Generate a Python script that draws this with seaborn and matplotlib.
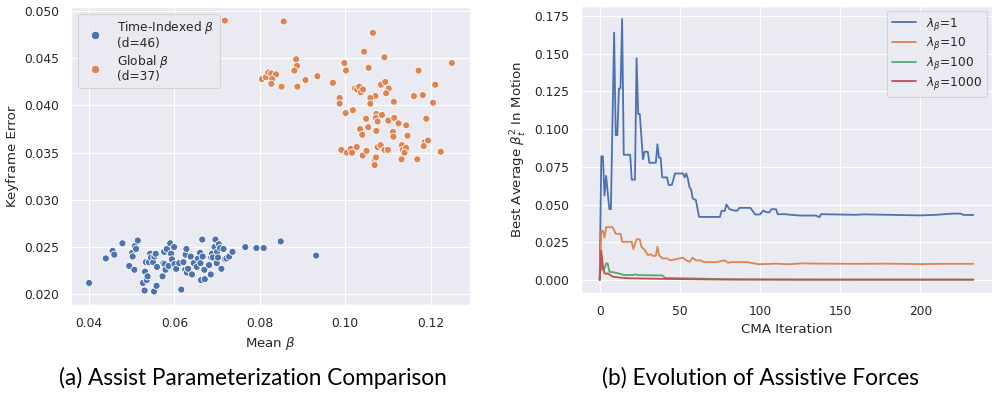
import numpy as np
import pandas as pd
import matplotlib
matplotlib.use("Agg")
import matplotlib.pyplot as plt
import seaborn as sns

# ---- data: (a) scatter of mean beta vs keyframe error ----
time_beta = [
    0.0400, 0.0439, 0.0455, 0.0459, 0.0478, 0.0494, 0.0501, 0.0502, 0.0506, 0.0507,
    0.0510, 0.0514, 0.0526, 0.0530, 0.0531, 0.0533, 0.0535, 0.0537, 0.0540, 0.0543,
    0.0545, 0.0550, 0.0552, 0.0553, 0.0556, 0.0558, 0.0559, 0.0572, 0.0574, 0.0576,
    0.0577, 0.0579, 0.0582, 0.0586, 0.0590, 0.0592, 0.0594, 0.0599, 0.0600, 0.0604,
    0.0611, 0.0616, 0.0621, 0.0625, 0.0626, 0.0628, 0.0629, 0.0632, 0.0638, 0.0641,
    0.0645, 0.0652, 0.0655, 0.0660, 0.0661, 0.0662, 0.0665, 0.0666, 0.0670, 0.0671,
    0.0681, 0.0685, 0.0686, 0.0688, 0.0690, 0.0694, 0.0696, 0.0699, 0.0700, 0.0702,
    0.0704, 0.0707, 0.0710, 0.0715, 0.0719, 0.0722, 0.0728, 0.0736, 0.0766, 0.0792,
    0.0809, 0.0849, 0.0932]
time_err = [
    0.0212, 0.0238, 0.0246, 0.0242, 0.0254, 0.0230, 0.0244, 0.0240, 0.0226, 0.0251,
    0.0248, 0.0257, 0.0212, 0.0204, 0.0224, 0.0234, 0.0215, 0.0219, 0.0234, 0.0243,
    0.0239, 0.0234, 0.0203, 0.0240, 0.0243, 0.0209, 0.0229, 0.0219, 0.0233, 0.0245,
    0.0232, 0.0226, 0.0248, 0.0230, 0.0254, 0.0243, 0.0237, 0.0250, 0.0232, 0.0227,
    0.0233, 0.0205, 0.0234, 0.0226, 0.0242, 0.0248, 0.0223, 0.0227, 0.0240, 0.0221,
    0.0233, 0.0229, 0.0238, 0.0244, 0.0233, 0.0215, 0.0258, 0.0240, 0.0226, 0.0216,
    0.0231, 0.0221, 0.0239, 0.0243, 0.0239, 0.0250, 0.0258, 0.0233, 0.0245, 0.0239,
    0.0253, 0.0249, 0.0227, 0.0248, 0.0237, 0.0238, 0.0240, 0.0245, 0.0250, 0.0249,
    0.0249, 0.0256, 0.0241]

global_beta = [
    0.0718, 0.0856, 0.1065, 0.1044, 0.1092, 0.0885, 0.0887, 0.0881, 0.0998, 0.1002,
    0.1055, 0.1250, 0.1172, 0.0805, 0.0814, 0.0820, 0.0827, 0.0838, 0.0829, 0.0827,
    0.0851, 0.0888, 0.0907, 0.0935, 0.0971, 0.1023, 0.1028, 0.1033, 0.1037, 0.1042,
    0.1084, 0.1094, 0.1102, 0.1096, 0.1211, 0.1161, 0.1182, 0.1206, 0.1114, 0.1071,
    0.1059, 0.1059, 0.0987, 0.0987, 0.1018, 0.1001, 0.1073, 0.1072, 0.1086, 0.1049,
    0.1076, 0.1101, 0.1115, 0.1125, 0.1143, 0.1190, 0.1054, 0.1035, 0.1040, 0.1073,
    0.1112, 0.1113, 0.1146, 0.1186, 0.1194, 0.1184, 0.1224, 0.0991, 0.1004, 0.1013,
    0.1016, 0.1027, 0.1041, 0.1050, 0.1076, 0.1083, 0.1092, 0.1100, 0.1133, 0.1135,
    0.1143, 0.1139, 0.1069, 0.1072, 0.1069, 0.1132, 0.1169]
global_err = [
    0.0490, 0.0489, 0.0477, 0.0457, 0.0451, 0.0449, 0.0442, 0.0437, 0.0445, 0.0437,
    0.0440, 0.0445, 0.0437, 0.0428, 0.0430, 0.0435, 0.0434, 0.0433, 0.0428, 0.0423,
    0.0420, 0.0420, 0.0427, 0.0431, 0.0424, 0.0418, 0.0417, 0.0420, 0.0414, 0.0417,
    0.0422, 0.0425, 0.0418, 0.0413, 0.0422, 0.0410, 0.0411, 0.0403, 0.0404, 0.0410,
    0.0408, 0.0402, 0.0408, 0.0402, 0.0395, 0.0392, 0.0391, 0.0387, 0.0390, 0.0386,
    0.0383, 0.0384, 0.0387, 0.0381, 0.0379, 0.0386, 0.0377, 0.0375, 0.0369, 0.0373,
    0.0372, 0.0367, 0.0368, 0.0361, 0.0363, 0.0357, 0.0351, 0.0353, 0.0350, 0.0354,
    0.0350, 0.0356, 0.0347, 0.0352, 0.0356, 0.0358, 0.0353, 0.0353, 0.0358, 0.0353,
    0.0355, 0.0350, 0.0343, 0.0345, 0.0337, 0.0343, 0.0343]

scatter_labels = ["Time-Indexed $\\beta$\n(d=46)", "Global $\\beta$\n(d=37)"]

# ---- data: (b) best average beta^2 per CMA iteration (change points) ----
lam1_iter = [0, 1, 2, 3, 4, 6, 7, 9, 10, 11, 12, 13, 14, 15, 19, 20, 22, 23, 24, 25,
             27, 28, 30, 31, 35, 36, 37, 38, 39, 42, 43, 45, 47, 52, 53, 54, 55, 56, 57, 58,
             60, 62, 75, 76, 78, 79, 81, 84, 86, 87, 94, 97, 100, 102, 104, 106, 107, 110, 111, 116,
             118, 125, 135, 137, 138, 160, 165, 200, 210, 220, 225, 227, 233]
lam1_val = [0.0, 0.082, 0.082, 0.056, 0.069, 0.047, 0.047, 0.164, 0.096, 0.096,
            0.127, 0.127, 0.173, 0.083, 0.083, 0.0665, 0.0665, 0.147, 0.110, 0.110,
            0.080, 0.085, 0.085, 0.0777, 0.0777, 0.090, 0.081, 0.081, 0.068, 0.068,
            0.063, 0.063, 0.0706, 0.0706, 0.068, 0.0706, 0.067, 0.0616, 0.060, 0.054,
            0.053, 0.0418, 0.0418, 0.0458, 0.0458, 0.050, 0.0469, 0.046, 0.046, 0.0478,
            0.0478, 0.0434, 0.0434, 0.046, 0.0449, 0.0449, 0.0469, 0.0469, 0.0436, 0.0436,
            0.0433, 0.0427, 0.0427, 0.0416, 0.0436, 0.0432, 0.0435, 0.0428, 0.0432, 0.0440,
            0.0440, 0.0431, 0.0431]

lam10_iter = [0, 1, 2, 3, 4, 8, 9, 10, 13, 14, 20, 21, 23, 25, 26, 28, 30, 32, 33, 35,
              36, 37, 39, 42, 44, 52, 54, 56, 58, 60, 63, 65, 73, 76, 78, 80, 82, 92, 99, 110,
              118, 126, 138, 160, 180, 200, 215, 233]
lam10_val = [0.0, 0.0326, 0.0326, 0.028, 0.035, 0.035, 0.033, 0.0306, 0.0306, 0.0253,
             0.0253, 0.0205, 0.027, 0.027, 0.022, 0.020, 0.0165, 0.017, 0.016, 0.016,
             0.022, 0.0165, 0.0143, 0.0143, 0.013, 0.0148, 0.013, 0.0121, 0.0148, 0.013,
             0.013, 0.0118, 0.0118, 0.0126, 0.013, 0.0114, 0.0118, 0.0118, 0.0104, 0.0108,
             0.0104, 0.011, 0.0108, 0.0107, 0.0108, 0.0105, 0.0107, 0.0107]

lam100_iter = [0, 1, 2, 3, 4, 5, 6, 9, 11, 13, 15, 21, 22, 24, 39, 41, 62, 80, 120, 233]
lam100_val = [0.0, 0.012, 0.0066, 0.0078, 0.011, 0.011, 0.0055, 0.005, 0.0045, 0.004,
              0.0033, 0.0033, 0.0038, 0.0032, 0.003, 0.0013, 0.0009, 0.0004, 0.0002, 0.0002]

lam1000_iter = [0, 1, 2, 3, 4, 5, 7, 8, 13, 19, 40, 70, 233]
lam1000_val = [0.0, 0.0194, 0.009, 0.0045, 0.004, 0.0044, 0.003, 0.0022, 0.0015, 0.0011,
               0.0007, 0.0003, 0.0002]

line_labels = ["$\\lambda_\\beta$=1", "$\\lambda_\\beta$=10",
               "$\\lambda_\\beta$=100", "$\\lambda_\\beta$=1000"]

captions = ["(a) Assist Parameterization Comparison", "(b) Evolution of Assistive Forces"]


def main():
    sns.set_theme(context="paper", style="darkgrid")
    plt.rcParams["font.family"] = ["DejaVu Sans"]

    scatter_df = pd.concat([
        pd.DataFrame({"Mean": time_beta, "Err": time_err, "kind": scatter_labels[0]}),
        pd.DataFrame({"Mean": global_beta, "Err": global_err, "kind": scatter_labels[1]}),
    ], ignore_index=True)

    line_df = pd.concat([
        pd.DataFrame({"it": lam1_iter, "val": lam1_val, "lam": line_labels[0]}),
        pd.DataFrame({"it": lam10_iter, "val": lam10_val, "lam": line_labels[1]}),
        pd.DataFrame({"it": lam100_iter, "val": lam100_val, "lam": line_labels[2]}),
        pd.DataFrame({"it": lam1000_iter, "val": lam1000_val, "lam": line_labels[3]}),
    ], ignore_index=True)

    W, H = 995, 395
    fig = plt.figure(figsize=(W / 100, H / 100), dpi=100)
    ax1 = fig.add_axes([71 / W, 1 - 305 / H, (470 - 71) / W, (305 - 7) / H])
    ax2 = fig.add_axes([581 / W, 1 - 293 / H, (992 - 581) / W, (293 - 6) / H])

    # (a) scatter
    sns.scatterplot(data=scatter_df, x="Mean", y="Err", hue="kind", ax=ax1,
                    edgecolor="white", linewidth=0.6, s=26)
    ax1.set_xlabel("Mean $\\beta$")
    ax1.set_ylabel("Keyframe Error")
    leg1 = ax1.legend(loc="upper left", markerscale=1.2, labelspacing=0.25,
                      borderaxespad=0.6)
    for t in leg1.get_texts():
        t.set_linespacing(1.05)
    ax1.set_xticks([0.04, 0.06, 0.08, 0.10, 0.12])
    ax1.set_yticks([0.020, 0.025, 0.030, 0.035, 0.040, 0.045, 0.050])
    ax1.yaxis.set_major_formatter(matplotlib.ticker.FormatStrFormatter("%.3f"))
    ax1.xaxis.set_major_formatter(matplotlib.ticker.FormatStrFormatter("%.2f"))

    # (b) lines
    sns.lineplot(data=line_df, x="it", y="val", hue="lam", ax=ax2,
                 errorbar=None, linewidth=1.3)
    ax2.set_xlabel("CMA Iteration")
    ax2.set_ylabel("Best Average $\\beta_t^2$ In Motion")
    ax2.legend(loc="upper right", labelspacing=0.22, borderaxespad=0.4)
    ax2.set_yticks([0.0, 0.025, 0.05, 0.075, 0.1, 0.125, 0.15, 0.175])
    ax2.yaxis.set_major_formatter(matplotlib.ticker.FormatStrFormatter("%.3f"))
    ax2.set_xticks([0, 50, 100, 150, 200])

    fig.text(253 / W, 1 - 378 / H, captions[0], ha="center", va="center",
             fontsize=16.3, family=["Lato", "DejaVu Sans"], color="black")
    fig.text(761 / W, 1 - 378 / H, captions[1], ha="center", va="center",
             fontsize=16.3, family=["Lato", "DejaVu Sans"], color="black")

    fig.savefig("out.png", dpi=100)


if __name__ == "__main__":
    main()
